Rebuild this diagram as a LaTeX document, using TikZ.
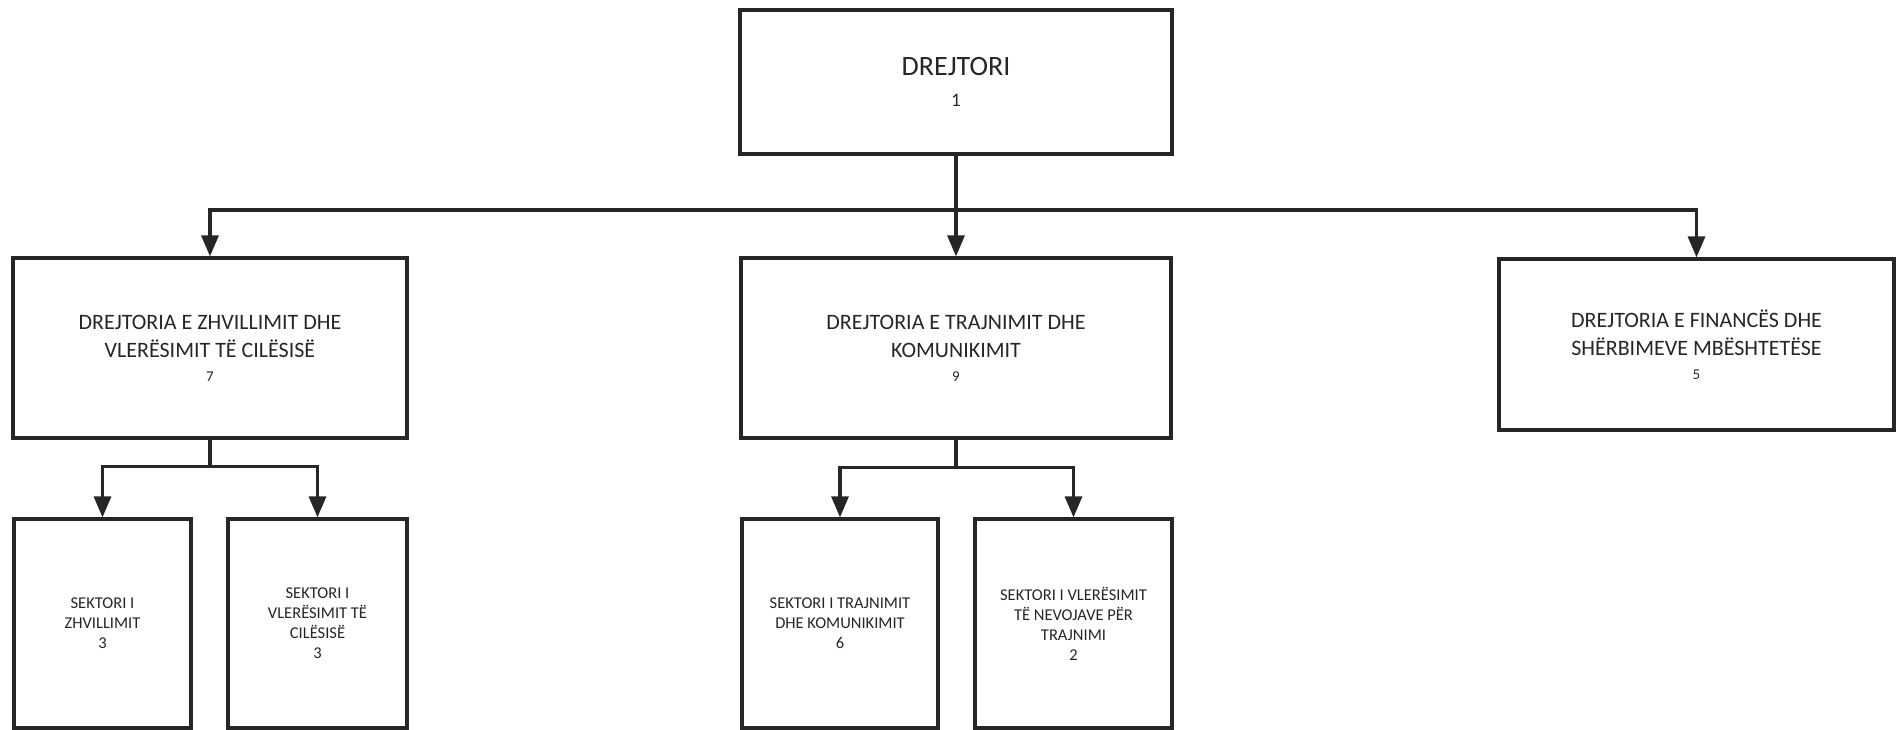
\documentclass[tikz,border=0pt]{standalone}
\usepackage{fontspec}
\setmainfont{Carlito}
\usetikzlibrary{arrows.meta}
\definecolor{ink}{HTML}{262626}
\tikzset{
  box/.style={draw=ink, line width=3.2pt, rectangle, inner sep=0pt, align=center, text=ink},
  conn/.style={draw=ink, line width=3.2pt, line join=miter, -{Triangle[length=21pt,width=17pt]}},
  big/.style={font=\fontsize{28}{34}\selectfont},
  mid/.style={font=\fontsize{22}{28}\selectfont},
  small/.style={font=\fontsize{16.5}{20}\selectfont},
}
\newcommand{\numA}[1]{{\fontsize{19}{24}\selectfont #1}}
\newcommand{\numB}[1]{{\fontsize{15}{24}\selectfont #1}}
\begin{document}
\begin{tikzpicture}[x=1pt,y=-1pt]
\useasboundingbox (0,0) rectangle (1899,730);
\node[box,big, minimum width=432pt, minimum height=144pt] (top) at (956,82) {DREJTORI\\[-3pt]\numA{1}};
\node[box,mid, minimum width=394pt, minimum height=180pt] (zh) at (210,348) {DREJTORIA E ZHVILLIMIT DHE\\VLERËSIMIT TË CILËSISË\\[-4pt]\numB{7}};
\node[box,mid, minimum width=430pt, minimum height=180pt] (tr) at (956,348) {DREJTORIA E TRAJNIMIT DHE\\KOMUNIKIMIT\\[-4pt]\numB{9}};
\node[box,mid, minimum width=395pt, minimum height=171pt] (fin) at (1696.5,344.5) {DREJTORIA E FINANCËS DHE\\SHËRBIMEVE MBËSHTETËSE\\[-4pt]\numB{5}};
\node[box,small, minimum width=177pt, minimum height=209pt] (s1) at (102.5,623.5) {SEKTORI I\\ZHVILLIMIT\\3};
\node[box,small, minimum width=179pt, minimum height=209pt] (s2) at (317.5,623.5) {SEKTORI I\\VLERËSIMIT TË\\CILËSISË\\3};
\node[box,small, minimum width=196pt, minimum height=209pt] (s3) at (840,623.5) {SEKTORI I TRAJNIMIT\\DHE KOMUNIKIMIT\\6};
\node[box,small, minimum width=197pt, minimum height=209pt] (s4) at (1073.5,623.5) {SEKTORI I VLERËSIMIT\\TË NEVOJAVE PËR\\TRAJNIMI\\2};
\coordinate (j1) at (956,210);
\draw[conn] (top.south) -- (tr.north);
\draw[conn] (j1) -| (zh.north);
\draw[conn] (j1) -| (fin.north);
\coordinate (j2) at ([yshift=-27pt]zh.south);
\draw[conn] (zh.south) -- (j2) -| (s1.north);
\draw[conn] (j2) -| (s2.north);
\coordinate (j3) at ([yshift=-28pt]tr.south);
\draw[conn] (tr.south) -- (j3) -| (s3.north);
\draw[conn] (j3) -| (s4.north);
\end{tikzpicture}
\end{document}
